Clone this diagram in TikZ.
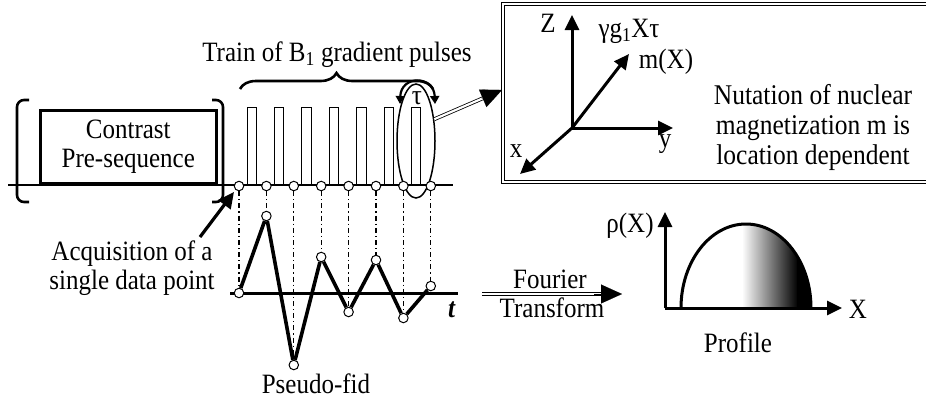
\documentclass[tikz,border=0pt]{standalone}
\usepackage{fontspec}
\usepackage{graphicx}
\setmainfont{Liberation Serif}
\usetikzlibrary{arrows.meta,decorations.pathreplacing,calc,shapes.geometric}
\newcommand{\ys}[1]{\scalebox{1}[1.12]{#1}}
\begin{document}
\begin{tikzpicture}[x=1pt,y=-1pt,
  lbl/.style={font=\fontsize{25}{30}\selectfont, inner sep=0pt, anchor=base},
  mlbl/.style={font=\fontsize{25}{29}\selectfont, inner sep=0pt, align=center},
  thickln/.style={line width=2.6pt},
  pulse/.style={draw, line width=1pt, fill=white},
  samp/.style={circle, draw, line width=1pt, fill=white, minimum size=9.5pt, inner sep=0pt},
  vline/.style={line width=1.2pt, dash pattern=on 5pt off 3pt on 1.2pt off 3pt},
  axis/.style={line width=3pt, -{Triangle[length=15pt,width=14pt]}},
  dbl/.style={double, double distance=2.2pt, line width=0.8pt},
  bigtip/.style={line width=0.1pt, -{Triangle[length=21pt,width=19pt]}},
]
\useasboundingbox (0,0) rectangle (926,405);

% ---------- pulse train ----------
\foreach \k in {0,...,6}{
  \draw[pulse] ({247+27.4*\k},185) rectangle +(9.5,-78);
}
\draw[thickln] (8,185) -- (453,185);

% contrast pre-sequence
\node[draw, thickln, minimum width=176pt, minimum height=73pt, anchor=south west,
      inner sep=0pt, mlbl] (pre) at (39,185) {\ys{Contrast}\\\ys{Pre-sequence}};
\draw[thickln, rounded corners=7pt] (29,100) -- (17,100) -- (17,202) -- (29,202);
\draw[thickln, rounded corners=7pt] (212,100) -- (223,100) -- (223,202) -- (212,202);

% brace and title
\draw[thickln, decorate, decoration={brace, amplitude=16pt}] (240,89) -- (433,89);
\node[lbl] (train) at (337,61) {\ys{Train of B\textsubscript{1} gradient pulses}};

% ellipse and tau
\node[ellipse, draw, line width=1.5pt, minimum width=38pt, minimum height=114pt, inner sep=0pt] (ell) at (416,141) {};
\draw[line width=2.2pt, {Triangle[length=8pt,width=9pt]}-{Triangle[length=8pt,width=9pt]}]
  (400,104) .. controls (401,75) and (434,75) .. (435,104);
\node[lbl] (tau) at (417,104) {\ys{τ}};

% sample points on the baseline
\foreach \k in {0,...,7}{
  \node[samp] (s\k) at ({239+27.4*\k},186) {};
}

% ---------- pseudo-fid ----------
\draw[line width=3pt] (230,293) -- (458,293);
\foreach \k/\yy in {0/293,1/216,2/365,3/257,4/312,5/260,6/318,7/286}{
  \node[samp] (f\k) at ({239+27.4*\k},\yy) {};
}
\foreach \k in {0,...,7}{
  \draw[vline] (s\k.south) -- (f\k.north);
}
\draw[line width=3.6pt, line join=round] (f0) -- (f1) -- (f2) -- (f3) -- (f4) -- (f5) -- (f6) -- (f7);
\node[lbl] (tlab) at (452,317) {\ys{\textbf{\textit{t}}}};
\node[lbl] (pfid) at (316,393) {\ys{Pseudo-fid}};

% acquisition
\node[mlbl] (acq) at (132,268) {\ys{Acquisition of a}\\\ys{single data point}};
\coordinate (acqS) at (200,237);
\coordinate (acqT) at (234,192);
\draw[line width=3.2pt, -{Triangle[length=16pt,width=15pt]}] (acqS) -- (acqT);

% ---------- nutation box ----------
\draw[dbl] (503,4) rectangle (935,182);
\coordinate (ellP) at (ell.50);
\coordinate (boxP) at (502,90);
\draw[dbl] (ellP) -- ($(ellP)!0.85!(boxP)$);
\draw[bigtip] ($(ellP)!0.7!(boxP)$) -- (boxP);

\coordinate (O) at (572,128);
\coordinate (Zt) at (572,15);
\coordinate (yt) at (673,128);
\coordinate (xt) at (520,174);
\coordinate (mt) at (629,54);
\draw[axis] (O) -- (Zt);
\draw[axis] (O) -- (yt);
\draw[axis] (O) -- (xt);
\draw[axis] (O) -- (mt);
\node[lbl] (Zl) at (548,32) {\ys{Z}};
\node[lbl] (gl) at (629,37) {\ys{γg\textsubscript{1}Xτ}};
\node[lbl] (ml) at (666,68) {\ys{m(X)}};
\node[lbl] (xl) at (516,157) {\ys{x}};
\node[lbl] (yl) at (665,147) {\ys{y}};
\node[mlbl, font=\fontsize{25.5}{30}\selectfont] (nut) at (813,127)
  {\ys{Nutation of nuclear}\\\ys{magnetization m is}\\\ys{location dependent}};

% ---------- Fourier transform ----------
\coordinate (fa) at (482,294);
\coordinate (fb) at (622,294);
\draw[dbl] (fa) -- ($(fa)!0.9!(fb)$);
\draw[bigtip] ($(fa)!0.8!(fb)$) -- (fb);
\node[lbl] (four) at (550,288) {\ys{Fourier}};
\node[lbl] (trans) at (552,317) {\ys{Transform}};

% ---------- profile ----------
\begin{scope}
  \clip (681,308) arc[start angle=180, end angle=360, x radius=65, y radius=84] -- cycle;
  \shade[left color=white, right color=black] (742,200) rectangle (798,310);
  \fill[black] (797,200) rectangle (815,310);
\end{scope}
\draw[line width=3pt] (681,308) arc[start angle=180, end angle=360, x radius=65, y radius=84];
\coordinate (PO) at (665,308);
\coordinate (Pv) at (665,212);
\coordinate (Ph) at (842,308);
\draw[axis] (PO) -- (Pv);
\draw[axis] (PO) -- (Ph);
\node[lbl] (rho) at (630,232) {\ys{ρ(X)}};
\node[lbl] (Xl) at (858,318) {\ys{X}};
\node[lbl] (prof) at (738,352) {\ys{Profile}};
\end{tikzpicture}
\end{document}
